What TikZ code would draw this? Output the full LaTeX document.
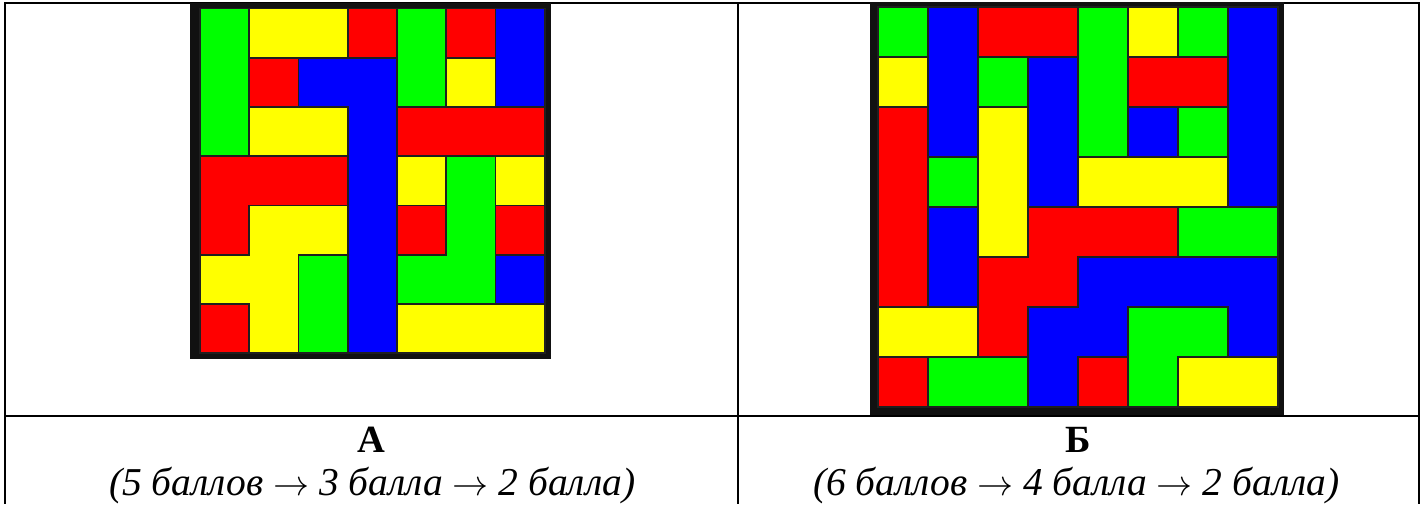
\documentclass[tikz,border=0pt]{standalone}
\usepackage{graphicx}
\usepackage{fontspec}
\setmainfont{Liberation Serif}
\definecolor{pg}{HTML}{00FF00}
\definecolor{py}{HTML}{FFFF00}
\definecolor{pr}{HTML}{FF0000}
\definecolor{pb}{HTML}{0000FF}
\definecolor{frm}{HTML}{111111}
\newcommand{\arr}{\resizebox{36pt}{!}{$\rightarrow$}}
\tikzset{
  tline/.style={line width=2pt, black},
  piece/.style={draw=black!88, line width=1.8pt, line join=miter},
  G/.style={piece, fill=pg},
  Y/.style={piece, fill=py},
  R/.style={piece, fill=pr},
  B/.style={piece, fill=pb},
  lbl/.style={anchor=base, inner sep=0pt, font=\fontsize{38.5}{42}\selectfont},
  sub/.style={anchor=base, inner sep=0pt, font=\fontsize{39.5}{42}\selectfont\itshape},
}
\begin{document}
\begin{tikzpicture}[x=1pt, y=-1pt]
\useasboundingbox (0,0) rectangle (1426,504);
% table lines
\draw[tline] (4,3) -- (1420,3);
\draw[tline] (4,416) -- (1420,416);
\draw[tline] (5,2) -- (5,504);
\draw[tline] (738,2) -- (738,504);
\draw[tline] (1419,2) -- (1419,504);
% left frame
\fill[frm] (190,3) rectangle (551,359);
\begin{scope}[shift={(200,8.5)}, x=49.25pt, y=-49.25pt]
\draw[G] (0,0) rectangle (1,3);
\draw[Y] (1,0) rectangle (3,1);
\draw[R] (3,0) rectangle (4,1);
\draw[G] (4,0) rectangle (5,2);
\draw[R] (5,0) rectangle (6,1);
\draw[B] (6,0) rectangle (7,2);
\draw[R] (1,1) rectangle (2,2);
\draw[B] (2,1) -- (4,1) -- (4,7) -- (3,7) -- (3,2) -- (2,2) -- cycle;
\draw[Y] (5,1) rectangle (6,2);
\draw[Y] (1,2) rectangle (3,3);
\draw[R] (4,2) rectangle (7,3);
\draw[R] (0,3) -- (3,3) -- (3,4) -- (1,4) -- (1,5) -- (0,5) -- cycle;
\draw[Y] (4,3) rectangle (5,4);
\draw[G] (5,3) -- (6,3) -- (6,6) -- (4,6) -- (4,5) -- (5,5) -- cycle;
\draw[Y] (6,3) rectangle (7,4);
\draw[Y] (1,4) -- (3,4) -- (3,5) -- (2,5) -- (2,7) -- (1,7) -- (1,6) -- (0,6) -- (0,5) -- (1,5) -- cycle;
\draw[R] (4,4) rectangle (5,5);
\draw[R] (6,4) rectangle (7,5);
\draw[G] (2,5) rectangle (3,7);
\draw[B] (6,5) rectangle (7,6);
\draw[R] (0,6) rectangle (1,7);
\draw[Y] (4,6) rectangle (7,7);
\end{scope}
% right frame
\fill[frm] (870,2) rectangle (1284,415);
\begin{scope}[shift={(878.3,7.3)}, x=50pt, y=-50pt]
\draw[G] (0,0) rectangle (1,1);
\draw[B] (1,0) rectangle (2,3);
\draw[R] (2,0) rectangle (4,1);
\draw[G] (4,0) rectangle (5,3);
\draw[Y] (5,0) rectangle (6,1);
\draw[G] (6,0) rectangle (7,1);
\draw[B] (7,0) rectangle (8,4);
\draw[Y] (0,1) rectangle (1,2);
\draw[G] (2,1) rectangle (3,2);
\draw[B] (3,1) rectangle (4,4);
\draw[R] (5,1) rectangle (7,2);
\draw[R] (0,2) rectangle (1,6);
\draw[Y] (2,2) rectangle (3,5);
\draw[B] (5,2) rectangle (6,3);
\draw[G] (6,2) rectangle (7,3);
\draw[G] (1,3) rectangle (2,4);
\draw[Y] (4,3) rectangle (7,4);
\draw[B] (1,4) rectangle (2,6);
\draw[R] (3,4) -- (6,4) -- (6,5) -- (4,5) -- (4,6) -- (3,6) -- (3,7) -- (2,7) -- (2,5) -- (3,5) -- cycle;
\draw[G] (6,4) rectangle (8,5);
\draw[B] (4,5) -- (8,5) -- (8,7) -- (7,7) -- (7,6) -- (5,6) -- (5,7) -- (4,7) -- (4,8) -- (3,8) -- (3,6) -- (4,6) -- cycle;
\draw[Y] (0,6) rectangle (2,7);
\draw[G] (5,6) -- (7,6) -- (7,7) -- (6,7) -- (6,8) -- (5,8) -- cycle;
\draw[R] (0,7) rectangle (1,8);
\draw[G] (1,7) rectangle (3,8);
\draw[R] (4,7) rectangle (5,8);
\draw[Y] (6,7) rectangle (8,8);
\end{scope}
% labels
\node[lbl] (ta) at (371.5,452) {\bfseries А};
\node[lbl] (tb) at (1078.5,452) {\bfseries Б};
\node[sub] (sa) at (372.5,495) {(5 баллов \arr{} 3 балла \arr{} 2 балла)};
\node[sub] (sb) at (1076.5,495) {(6 баллов \arr{} 4 балла \arr{} 2 балла)};
\end{tikzpicture}
\end{document}
